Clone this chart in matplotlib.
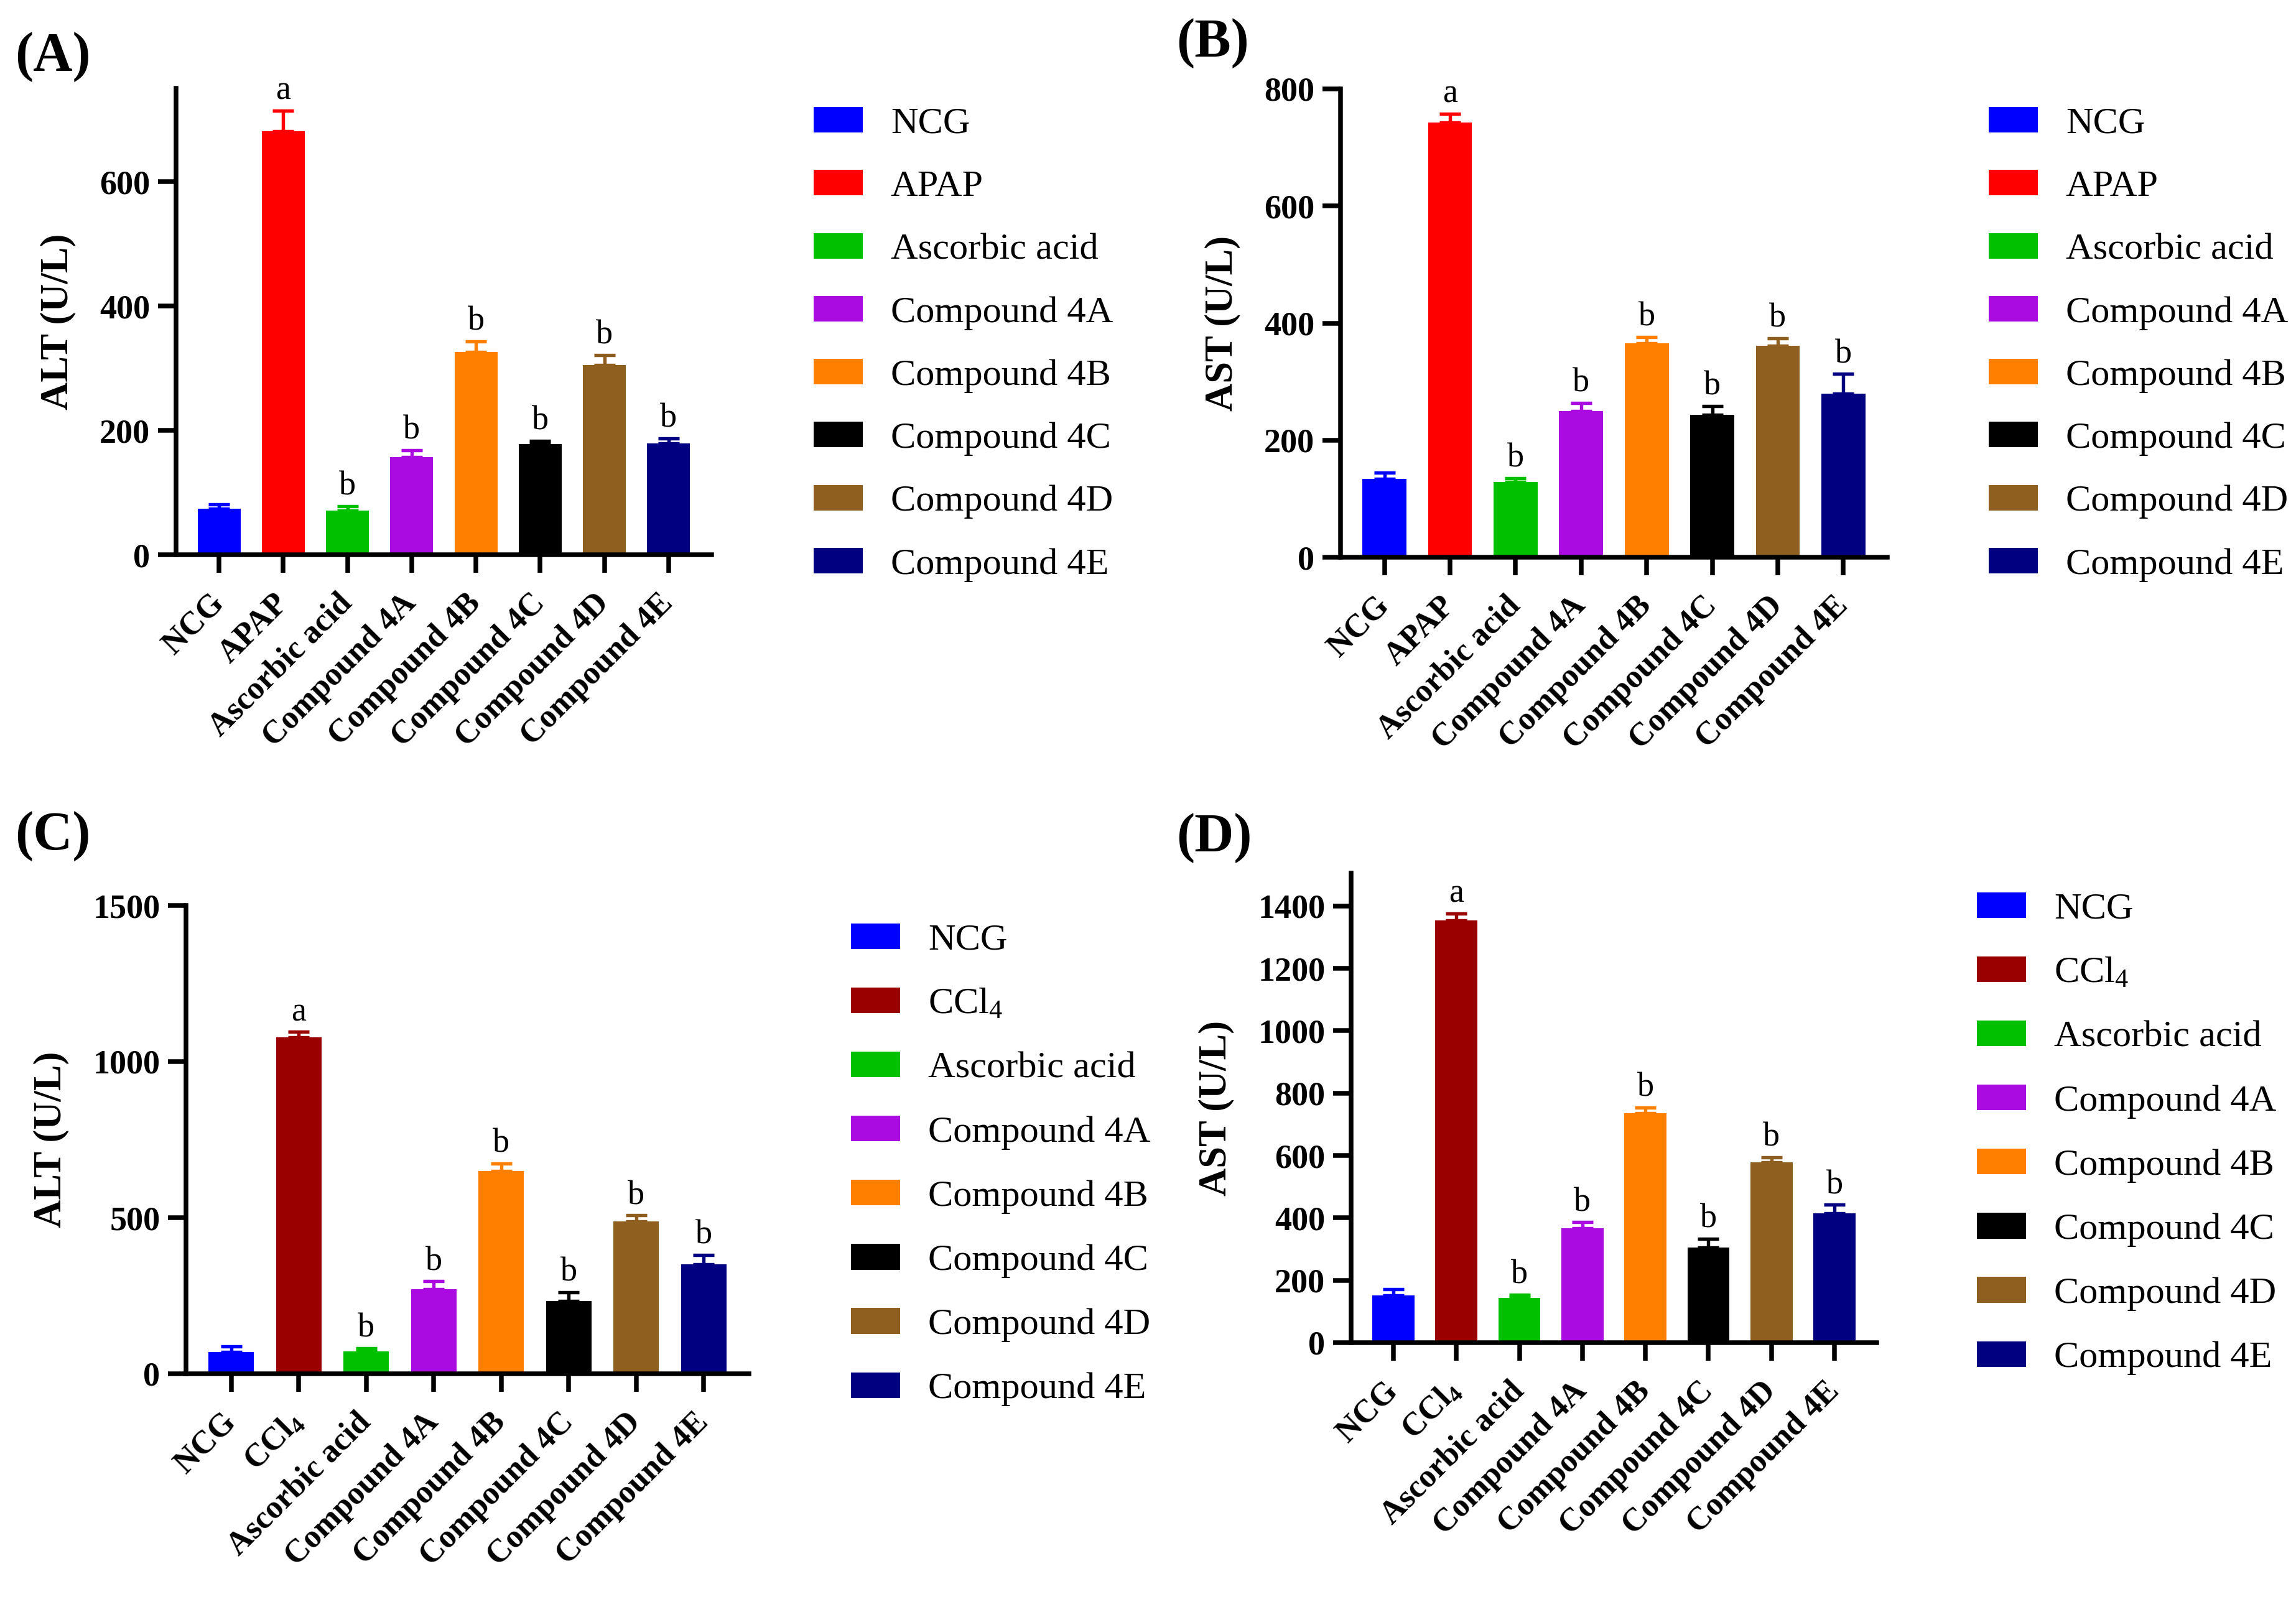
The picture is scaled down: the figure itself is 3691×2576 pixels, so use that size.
import matplotlib
matplotlib.use('Agg')
import matplotlib.pyplot as plt
import numpy as np

plt.rcParams['font.family'] = ['Liberation Serif', 'DejaVu Serif']
plt.rcParams['mathtext.fontset'] = 'custom'
plt.rcParams['mathtext.rm'] = 'Liberation Serif'
plt.rcParams['mathtext.default'] = 'regular'

# groups and colours
groups_apap = ['NCG', 'APAP', 'Ascorbic acid', 'Compound 4A', 'Compound 4B',
               'Compound 4C', 'Compound 4D', 'Compound 4E']
groups_ccl4 = ['NCG', 'CCl$_4$', 'Ascorbic acid', 'Compound 4A', 'Compound 4B',
               'Compound 4C', 'Compound 4D', 'Compound 4E']
colors_apap = ['#0000ff', '#ff0000', '#00c000', '#a90be0', '#ff8000',
               '#000000', '#8f5f1f', '#000080']
colors_ccl4 = ['#0000ff', '#9a0000', '#00c000', '#a90be0', '#ff8000',
               '#000000', '#8f5f1f', '#000080']
letters = ['', 'a', 'b', 'b', 'b', 'b', 'b', 'b']

# values (mean, SEM)
alt_apap = [74, 681, 71, 157, 326, 178, 305, 179]
alt_apap_err = [7, 33, 7, 11, 17, 5, 16, 8]
ast_apap = [134, 743, 129, 250, 365, 243, 361, 279]
ast_apap_err = [10, 15, 6, 14, 11, 15, 13, 34]
alt_ccl4 = [70, 1077, 72, 271, 650, 233, 488, 350]
alt_ccl4_err = [17, 18, 10, 25, 24, 28, 19, 30]
ast_ccl4 = [151, 1354, 144, 366, 736, 305, 578, 414]
ast_ccl4_err = [20, 22, 10, 20, 18, 28, 17, 28]

W, H = 3691, 2576
fig = plt.figure(figsize=(W / 300, H / 300), dpi=300)


def px_axes(left, right, top, bottom):
    return fig.add_axes([left / W, 1 - bottom / H, (right - left) / W, (bottom - top) / H])


def panel(box, groups, colors, vals, errs, ylabel, ymax, yticks, tag, tagpos, legpos, lspace):
    ax = px_axes(*box)
    x = np.arange(len(groups))
    bars = ax.bar(x, vals, width=0.67, color=colors, linewidth=0, zorder=2)
    for i in range(len(x)):
        ax.errorbar(x[i], vals[i], yerr=[[0], [errs[i]]], fmt='none', ecolor=colors[i],
                    elinewidth=1.3, capsize=4, capthick=1.3, zorder=1)
        if letters[i]:
            ax.annotate(letters[i], (x[i], vals[i] + errs[i]), xytext=(0, 1.5),
                        textcoords='offset points', ha='center', va='bottom', fontsize=13)
    ax.set_xlim(-0.67, len(groups) - 0.33)
    ax.set_ylim(0, ymax)
    ax.set_yticks(yticks)
    ax.set_xticks(x)
    ax.set_xticklabels(groups, rotation=45, ha='right', va='center',
                       rotation_mode='anchor', fontweight='bold', fontsize=12.5)
    for lab in ax.get_yticklabels():
        lab.set_fontweight('bold')
        lab.set_fontsize(13)
    ax.set_ylabel(ylabel, fontsize=15, fontweight='bold', labelpad=9)
    for s in ['top', 'right']:
        ax.spines[s].set_visible(False)
    for s in ['left', 'bottom']:
        ax.spines[s].set_linewidth(1.8)
    ax.tick_params(axis='both', direction='out', length=7, width=1.8)
    ax.tick_params(axis='x', pad=10)
    ax.tick_params(axis='y', pad=3)
    ax.legend(list(bars.patches), groups, loc='upper left',
              bbox_to_anchor=(legpos[0] / W, 1 - legpos[1] / H),
              bbox_transform=fig.transFigure, frameon=False, fontsize=14.5,
              handlelength=1.3, handleheight=0.67, handletextpad=0.75,
              labelspacing=lspace, borderpad=0, borderaxespad=0)
    fig.text(tagpos[0] / W, 1 - tagpos[1] / H, tag, fontsize=21, fontweight='bold',
             ha='left', va='center')
    return ax


panel((283, 1144, 142, 892), groups_apap, colors_apap, alt_apap, alt_apap_err,
      'ALT (U/L)', 750, [0, 200, 400, 600], '(A)', (24, 92), (1308, 172), 0.77)
panel((2155, 3034, 143, 896), groups_apap, colors_apap, ast_apap, ast_apap_err,
      'AST (U/L)', 800, [0, 200, 400, 600, 800], '(B)', (1891, 70), (3197, 172), 0.77)
panel((299, 1204, 1456, 2209), groups_ccl4, colors_ccl4, alt_ccl4, alt_ccl4_err,
      'ALT (U/L)', 1500, [0, 500, 1000, 1500], '(C)', (24, 1345), (1368, 1485), 0.8)
panel((2172, 3017, 1404, 2159), groups_ccl4, colors_ccl4, ast_ccl4, ast_ccl4_err,
      'AST (U/L)', 1505, [0, 200, 400, 600, 800, 1000, 1200, 1400], '(D)', (1891, 1348),
      (3178, 1435), 0.8)

fig.savefig('out.png', dpi=300)
